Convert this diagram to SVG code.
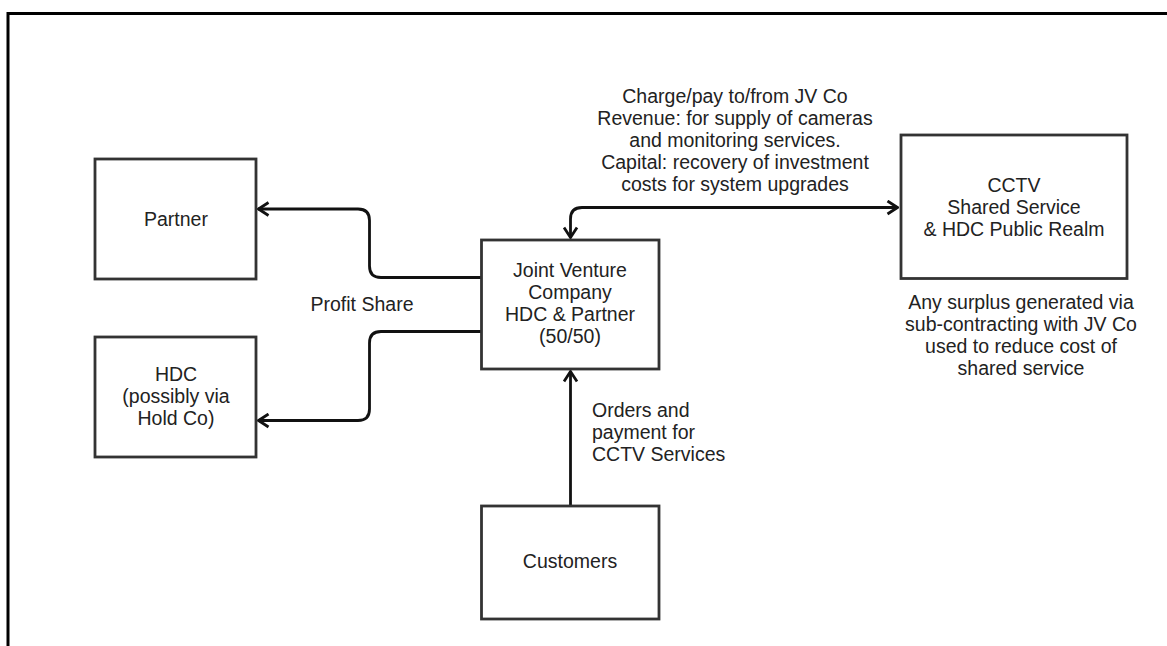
<svg xmlns="http://www.w3.org/2000/svg" width="1167" height="646" viewBox="0 0 1167 646">
<defs>
<style>
.box{fill:#fff;stroke:#333;stroke-width:2.8}
.t{font-family:"Liberation Sans",Arial,sans-serif;font-size:19.5px;fill:#222}
.c{text-anchor:middle}
.conn{fill:none;stroke:#111;stroke-width:2.8}
</style>
<marker id="arr" viewBox="0 0 13 16" refX="12" refY="8" markerWidth="13" markerHeight="16" markerUnits="userSpaceOnUse" orient="auto-start-reverse">
<path d="M1.5,1.5 L11.5,8 L1.5,14.5" fill="none" stroke="#111" stroke-width="2.8"/>
</marker>
</defs>
<rect width="1167" height="646" fill="#fff"/>
<path d="M8,646 L8,13.5 L1167,13.5" fill="none" stroke="#000" stroke-width="3"/>

<g id="connectors">
<path class="conn" d="M570.5,238 L570.5,219 Q570.5,207.5 582,207.5 L898,207.5" marker-start="url(#arr)" marker-end="url(#arr)"/>
<path class="conn" d="M481,277.5 L381,277.5 Q369.5,277.5 369.5,266 L369.5,220.5 Q369.5,209 358,209 L258,209" marker-end="url(#arr)"/>
<path class="conn" d="M481,331.5 L381,331.5 Q369.5,331.5 369.5,343 L369.5,409 Q369.5,420.5 358,420.5 L258,420.5" marker-end="url(#arr)"/>
<path class="conn" d="M570.5,506 L570.5,371" marker-end="url(#arr)"/>
</g>

<g id="partner">
<rect class="box" x="95" y="159" width="161" height="120"/>
<text class="t c" x="176" y="226">Partner</text>
</g>

<g id="hdc">
<rect class="box" x="95" y="337" width="161" height="120"/>
<text class="t c" x="176" y="381">HDC</text>
<text class="t c" x="176" y="403">(possibly via</text>
<text class="t c" x="176" y="425">Hold Co)</text>
</g>

<g id="jv">
<rect class="box" x="481.5" y="240" width="177.5" height="129"/>
<text class="t c" x="570" y="277">Joint Venture</text>
<text class="t c" x="570" y="299">Company</text>
<text class="t c" x="570" y="321">HDC &amp; Partner</text>
<text class="t c" x="570" y="343">(50/50)</text>
</g>

<g id="customers">
<rect class="box" x="481.5" y="506" width="177.5" height="113"/>
<text class="t c" x="570" y="568">Customers</text>
</g>

<g id="cctv">
<rect class="box" x="901" y="135" width="226" height="143.5"/>
<text class="t c" x="1014" y="192">CCTV</text>
<text class="t c" x="1014" y="214">Shared Service</text>
<text class="t c" x="1014" y="236">&amp; HDC Public Realm</text>
</g>

<g id="labels">
<text class="t c" x="735" y="103">Charge/pay to/from JV Co</text>
<text class="t c" x="735" y="125">Revenue: for supply of cameras</text>
<text class="t c" x="735" y="147">and monitoring services.</text>
<text class="t c" x="735" y="169">Capital: recovery of investment</text>
<text class="t c" x="735" y="191">costs for system upgrades</text>
<text class="t c" x="362" y="311">Profit Share</text>
<text class="t" x="592" y="417">Orders and</text>
<text class="t" x="592" y="439">payment for</text>
<text class="t" x="592" y="461">CCTV Services</text>
<text class="t c" x="1021" y="309">Any surplus generated via</text>
<text class="t c" x="1021" y="331">sub-contracting with JV Co</text>
<text class="t c" x="1021" y="353">used to reduce cost of</text>
<text class="t c" x="1021" y="375">shared service</text>
</g>
</svg>
